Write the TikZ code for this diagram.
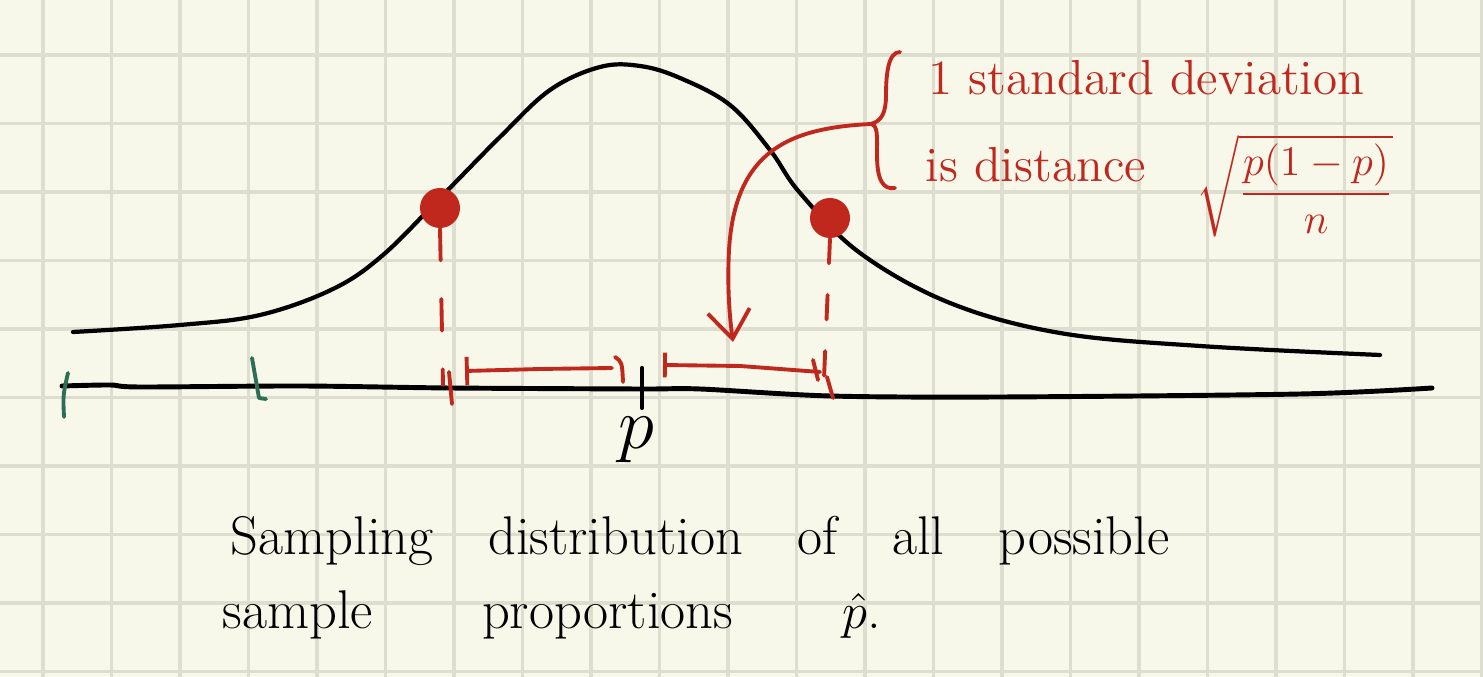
\documentclass[tikz,border=0pt]{standalone}
\usepackage{amsmath}
\usetikzlibrary{arrows.meta,calc}
\definecolor{PaperClr}{RGB}{247,247,234}
\definecolor{GridClr}{RGB}{222,222,208}
\definecolor{MarkClr}{RGB}{192,40,30}
\definecolor{TickClr}{RGB}{46,110,85}
\newcommand{\handfont}{\fontsize{15.5}{18}\selectfont\spaceskip=1em plus .1em\relax}
\newcommand{\widehand}{\fontsize{15.5}{18}\selectfont\spaceskip=2em plus .1em\relax}

\begin{document}
\begin{tikzpicture}[x=0.01cm,y=-0.01cm,line cap=round,line join=round,
  ink/.style={line width=1.2pt,black},
  redink/.style={line width=1.1pt,MarkClr},
  greenink/.style={line width=1.1pt,TickClr},
  dot/.style={circle,fill=MarkClr,inner sep=0pt,minimum width=0.40cm},
  hand/.style={font=\handfont,anchor=base west,inner sep=0pt},
  redhand/.style={hand,MarkClr,font=\fontsize{14}{17}\selectfont}]

\fill[PaperClr] (0,0) rectangle (1483,677);
\useasboundingbox (0,0) rectangle (1483,677);

% Grid paper.
\foreach \gx in {0,...,21}
  \draw[GridClr,line width=0.9pt] ({43+68.5*\gx},0) -- ({43+68.5*\gx},677);
\foreach \gy in {0,...,9}
  \draw[GridClr,line width=0.9pt] (0,{55+68.5*\gy}) -- (1483,{55+68.5*\gy});

% Bell curve and axis.
\draw[ink] plot[smooth,tension=0.6] coordinates {(73,332) (180,325) (260,315)
  (333,289) (383,255) (440,198) (500,137) (550,90) (600,67) (640,66) (680,78)
  (730,105) (770,150) (800,193) (860,253) (950,303) (1060,333) (1200,346) (1380,355)};
\draw[ink,line width=1.4pt] plot[smooth] coordinates {(62,386) (110,385) (140,387)
  (300,386) (450,388) (640,389) (700,389) (830,396) (1000,397) (1300,394) (1432,388)};

\coordinate (pmid) at (642,368);
\coordinate (pbot) at (642,408);
\draw[ink] (pmid) -- (pbot);
\node[hand,anchor=center,font=\fontsize{20}{22}\selectfont] (plabel) at (636,440) {$p$};

% Green ticks.
\draw[greenink] (68,373) .. controls (63,395) .. (64,417);
\draw[greenink] (252,358) -- (259,398) -- (266,399);

% One standard deviation either side.
\node[dot] (lo) at (440,208) {};
\node[dot] (hi) at (830,218) {};
\coordinate (lofoot) at (443,385);
\coordinate (hifoot) at (824,378);
\draw[redink,dash pattern=on 9pt off 11pt] (lo.south) -- (lofoot);
\draw[redink,dash pattern=on 7pt off 9pt] (hi.south) -- (hifoot);
\draw[redink] (449,372) -- (452,404);
\draw[redink] (813,360) -- (818,380);
\draw[redink] (827,377) -- (833,398);

\coordinate (la) at (465,371);
\coordinate (lb) at (612,368);
\coordinate (ra) at (663,365);
\coordinate (rb) at (820,372);
\draw[redink,{Bar[width=8pt]}-] (la) -- (540,369) -- (lb);
\draw[redink] (615,357) .. controls (622,362) .. (623,382);
\draw[redink,{Bar[width=7pt]}-] (ra) -- (740,366) -- (rb);

% Brace and arrow.
\coordinate (btop) at (900,52);
\coordinate (bbot) at (895,188);
\coordinate (cusp) at (871,124);
\coordinate (tip) at (733,342);
\draw[redink] (btop) .. controls (888,52) and (886,75) .. (886,95)
  .. controls (886,112) and (882,121) .. (cusp)
  .. controls (878,126) and (877,135) .. (877,155)
  .. controls (877,180) and (883,190) .. (bbot);
\draw[redink,-{Straight Barb[length=8pt,width=12pt]}] (cusp)
  .. controls (790,128) and (735,150) .. (729,250)
  .. controls (727,290) and (730,320) .. (tip);

\node[redhand] (sdtext) at (928,95) {1 standard deviation};
\node[redhand] (distext) at (925,182) {is distance};
\node[redhand,anchor=center,font=\fontsize{13}{15}\selectfont] (sdform) at (1295,186)
  {$\sqrt{\dfrac{p(1-p)}{n}}$};

% Caption.
\node[hand] (capone) at (230,555) {Sampling distribution of all possible};
\node[hand,font=\widehand] (captwo) at (222,628) {sample proportions $\hat{p}$.};

\end{tikzpicture}
\end{document}
